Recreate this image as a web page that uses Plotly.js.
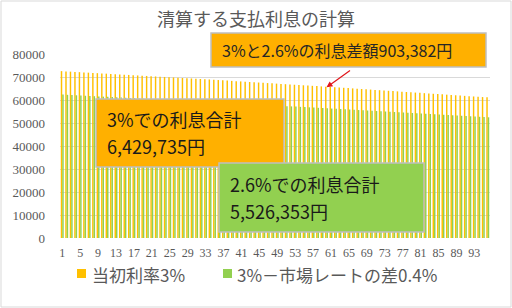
<!DOCTYPE html>
<html><head><meta charset="utf-8">
<script src="https://cdn.plot.ly/plotly-3.0.1.min.js"></script>
<style>html,body{margin:0;padding:0;background:#fff}#c{width:512px;height:308px}</style>
</head><body><div id="c"></div>
<script>
const months = Array.from({length:96},(_,i)=>i+1);
const seriesNames = ['当初利率3%','3%－市場レートの差0.4%'];
const interest3 = [
72550,72440,72330,72220,72110,72000,71890,71780,71670,71560,
71450,71340,71230,71120,71010,70900,70790,70680,70570,70460,
70350,70240,70130,70020,69910,69800,69690,69580,69470,69360,
69250,69140,69030,68920,68800,68680,68560,68440,68320,68200,
68080,67960,67840,67720,67600,67480,67360,67240,67120,67000,
66880,66760,66640,66520,66400,66280,66160,66040,65920,65800,
65680,65560,65440,65310,65180,65050,64920,64790,64660,64530,
64400,64270,64140,64010,63880,63750,63620,63490,63360,63230,
63100,62970,62840,62710,62580,62450,62320,62190,62060,61930,
61800,61670,61540,61410,61280,61150];
const interest26 = [
62350,62250,62150,62050,61950,61850,61760,61660,61560,61460,
61360,61270,61170,61070,60970,60870,60780,60680,60580,60480,
60380,60280,60180,60080,59990,59890,59790,59690,59590,59490,
59390,59290,59190,59090,58990,58880,58780,58680,58570,58470,
58370,58260,58160,58060,57950,57850,57750,57640,57540,57440,
57330,57230,57120,57020,56910,56810,56700,56600,56490,56390,
56280,56180,56070,55960,55860,55750,55640,55540,55430,55320,
55220,55110,55000,54890,54780,54680,54570,54460,54350,54240,
54130,54020,53910,53800,53690,53580,53470,53360,53250,53140,
53030,52920,52810,52700,52590,52480];
const titleText = '清算する支払利息の計算';
const noteDiff = '3%と2.6%の利息差額903,382円';
const note3 = ['3%での利息合計','6,429,735円'];
const note26 = ['2.6%での利息合計','5,526,353円'];
const arrowMonth = 60, arrowValue = 65500;

const L=60,R=490,T=54,B=238, W=R-L, H=B-T;
const px = X => (X-L)/W, py = Y => (B-Y)/H;
const jp = '"Noto Sans CJK JP", sans-serif';
const serif = '"Liberation Serif", serif';
const orange='#FFC000', green='#92D050', boxOrange='#FFB000';
const data = [
 {type:'bar', x:months, y:interest3, name:seriesNames[0], marker:{color:orange}},
 {type:'bar', x:months, y:interest26, name:seriesNames[1], marker:{color:green}}
];
function box(x0,y0,x1,y1,fill){return {type:'rect',xref:'paper',yref:'paper',x0:px(x0),x1:px(x1),y0:py(y1),y1:py(y0),
  fillcolor:fill,line:{color:'#BFBFBF',width:1.5},layer:'above'};}
function txt(x,y,t,size,color){return {xref:'paper',yref:'paper',x:px(x),y:py(y),xanchor:'left',yanchor:'middle',
  text:t,showarrow:false,borderpad:0,font:{family:jp,size:size,color:color}};}
const layout = {
 width:512, height:308, margin:{l:L,r:512-R,t:T,b:308-B},
 paper_bgcolor:'#fff', plot_bgcolor:'#fff',
 title:{text:titleText, x:px(256), xref:'paper', xanchor:'center', y:1-20/308, yanchor:'middle', font:{family:jp, size:18, color:'#595959'}},
 barmode:'group', bargap:0.35, bargroupgap:0,
 xaxis:{range:[0.5,96.5], tickmode:'linear', tick0:1, dtick:4, showgrid:false, zeroline:false,
   showline:false, ticks:'', ticklabelstandoff:6, tickfont:{family:serif, size:12, color:'#595959'}},
 yaxis:{range:[0,80000], dtick:10000, tickformat:'d', gridcolor:'#D9D9D9', zeroline:false, showline:false,
   ticks:'', ticklabelstandoff:14, tickfont:{family:serif, size:13, color:'#595959'}},
 showlegend:false,
 shapes:[
  {type:'rect', xref:'paper', yref:'paper', x0:px(1), x1:px(511), y0:py(307), y1:py(1),
   line:{color:'#D9D9D9', width:1}, fillcolor:'rgba(0,0,0,0)', layer:'below'},
  box(211,33,486,67,boxOrange),
  box(96,99,284,167,boxOrange),
  box(219,163,424,232,green),
  {type:'rect',xref:'paper',yref:'paper',x0:px(77),x1:px(86),y0:py(278),y1:py(269),fillcolor:orange,line:{width:0}},
  {type:'rect',xref:'paper',yref:'paper',x0:px(223),x1:px(232),y0:py(278),y1:py(269),fillcolor:green,line:{width:0}}
 ],
 annotations:[
  txt(221,50,noteDiff,16,'#262626'),
  txt(106,119,note3[0],18,'#1a1a1a'),
  txt(106,146,note3[1],18,'#1a1a1a'),
  txt(229,184,note26[0],18,'#1a1a1a'),
  txt(229,211,note26[1],18,'#1a1a1a'),
  txt(91,274,seriesNames[0],17,'#595959'),
  txt(236,274,seriesNames[1],17,'#595959'),
  {xref:'x', yref:'y', x:arrowMonth, y:arrowValue, text:'', showarrow:true, arrowhead:2,
   arrowsize:1, arrowwidth:1.2, arrowcolor:'#E0161B', ax:25, ay:-18}
 ]
};
Plotly.newPlot('c', data, layout, {displayModeBar:false, staticPlot:true});
</script></body></html>
